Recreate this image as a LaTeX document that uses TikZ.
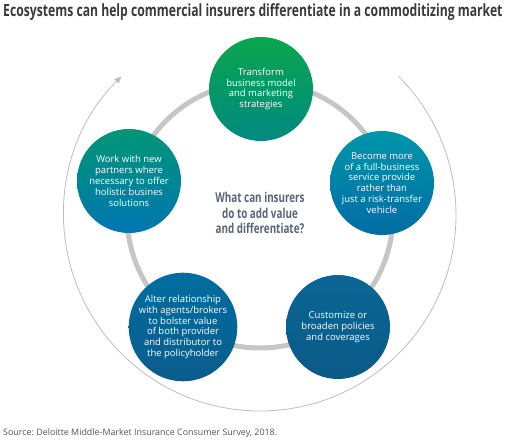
\documentclass[tikz,border=0pt]{standalone}
\usepackage{fontspec}
\setmainfont{Open Sans}
\newfontfamily\condfont[FakeStretch=0.725]{Open Sans}
\usetikzlibrary{arrows.meta}
\definecolor{ringgray}{HTML}{C6C6C6}
\definecolor{arcgray}{HTML}{BDBDBD}
\definecolor{titlecol}{HTML}{3A3A3A}
\definecolor{qcol}{HTML}{5B6577}
\definecolor{srccol}{HTML}{555555}
\tikzset{
  bubble/.style={circle, minimum size=104pt, inner sep=0pt, text=white, align=center,
    font=\fontsize{9.5}{10.8}\selectfont, draw=none},
}
\frenchspacing
\begin{document}
\begin{tikzpicture}[x=1pt,y=1pt]
\useasboundingbox (0,0) rectangle (511,444);
\coordinate (c) at (260,229);
% outer thin arc with arrow
\draw[arcgray, line width=0.8pt, -{Triangle[length=7pt,width=6pt]}]
  (c) ++(45:196) arc[start angle=45, end angle=-225, radius=196];
% thick ring
\draw[ringgray, line width=5pt] (c) circle[radius=133];
% bubbles
\node[bubble, top color={rgb,255:red,10;green,166;blue,79}, bottom color={rgb,255:red,0;green,137;blue,128}]
  (t) at (261,355) {Transform\\business model\\and marketing\\strategies};
\node[bubble, top color={rgb,255:red,0;green,150;blue,170}, bottom color={rgb,255:red,0;green,108;blue,165}]
  (r) at (382,261) {Become more\\of a full-business\\service provide\\rather than\\just a risk-transfer\\vehicle};
\node[bubble, top color={rgb,255:red,0;green,150;blue,118}, bottom color={rgb,255:red,0;green,118;blue,178}]
  (l) at (129,263) {Work with new\\partners where\\necessary to offer\\holistic busines\\solutions};
\node[bubble, top color={rgb,255:red,0;green,110;blue,160}, bottom color={rgb,255:red,10;green,92;blue,140}]
  (bl) at (183,117) {Alter relationship\\with agents/brokers\\to bolster value\\of both provider\\and distributor to\\the policyholder};
\node[bubble, top color={rgb,255:red,10;green,102;blue,150}, bottom color={rgb,255:red,10;green,90;blue,135}]
  (br) at (338,117) {Customize or\\broaden policies\\and coverages};
% center question
\node[text=qcol, align=center, font=\condfont\bfseries\fontsize{13.6}{15.5}\selectfont]
  (q) at (260,231) {What can insurers\\do to add value\\and differentiate?};
% title
\node[anchor=base west, inner sep=0pt, text=titlecol, font=\condfont\bfseries\fontsize{16.8}{20}\selectfont]
  (title) at (3,427) {Ecosystems can help commercial insurers differentiate in a commoditizing market};
% source
\node[anchor=base west, inner sep=0pt, text=srccol, font=\fontsize{8.9}{10}\selectfont]
  (src) at (3,8) {Source: Deloitte Middle-Market Insurance Consumer Survey, 2018.};
\end{tikzpicture}
\end{document}
